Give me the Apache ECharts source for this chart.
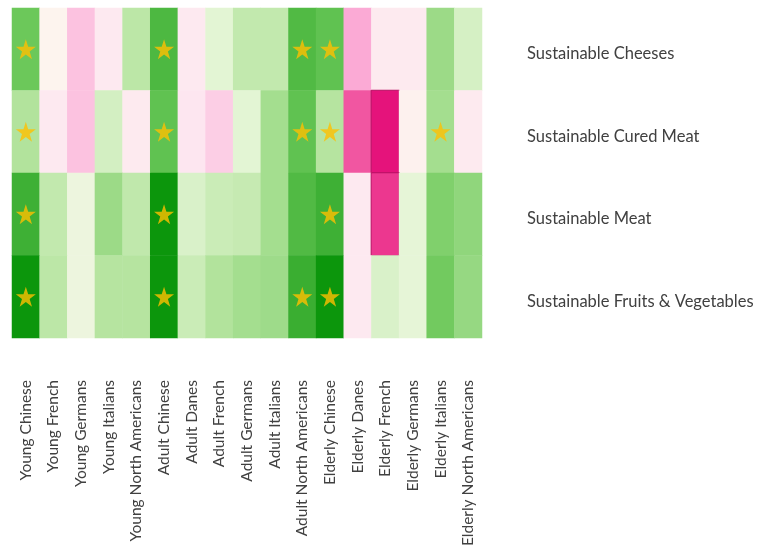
<!DOCTYPE html>
<html>
<head>
<meta charset="utf-8">
<script src="https://cdn.jsdelivr.net/npm/echarts@6/dist/echarts.min.js"></script>
<style>
  html, body { margin: 0; padding: 0; background: #ffffff; }
  #chart { width: 768px; height: 559px; }
</style>
</head>
<body>
<div id="chart"></div>
<script>
// Consumer groups along the x axis
const groups = [
  'Young Chinese', 'Young French', 'Young Germans', 'Young Italians', 'Young North Americans',
  'Adult Chinese', 'Adult Danes', 'Adult French', 'Adult Germans', 'Adult Italians', 'Adult North Americans',
  'Elderly Chinese', 'Elderly Danes', 'Elderly French', 'Elderly Germans', 'Elderly Italians', 'Elderly North Americans'
];

// Product categories, top to bottom
const products = [
  'Sustainable Cheeses',
  'Sustainable Cured Meat',
  'Sustainable Meat',
  'Sustainable Fruits & Vegetables'
];

// Scores per product (one value per group, -1 = strongly negative, +1 = strongly positive)
const cheeses    = [0.75, 0.00, -0.40, -0.20, 0.45, 0.83, -0.20, 0.25, 0.42, 0.42, 0.82, 0.78, -0.50, -0.18, -0.17, 0.58, 0.32];
const curedMeat  = [0.50, -0.20, -0.40, 0.33, -0.18, 0.78, -0.25, -0.35, 0.25, 0.55, 0.78, 0.48, -0.73, -1.00, -0.05, 0.55, -0.18];
const meat       = [0.87, 0.42, 0.15, 0.58, 0.43, 1.00, 0.30, 0.38, 0.40, 0.55, 0.82, 0.87, -0.20, -0.85, 0.22, 0.68, 0.62];
const fruitsVeg  = [1.00, 0.45, 0.15, 0.48, 0.48, 1.00, 0.38, 0.50, 0.55, 0.57, 0.88, 1.00, -0.20, 0.30, 0.22, 0.73, 0.60];

// Group indices flagged with a star for each product
const starsCheeses   = [0, 5, 10, 11];
const starsCuredMeat = [0, 5, 10, 11, 15];
const starsMeat      = [0, 5, 11];
const starsFruitsVeg = [0, 5, 10, 11];

const rows = [cheeses, curedMeat, meat, fruitsVeg];
const starRows = [starsCheeses, starsCuredMeat, starsMeat, starsFruitsVeg];

const cells = [];
rows.forEach((vals, r) => {
  vals.forEach((v, c) => {
    const item = { value: [c, r, v] };
    if (v <= -0.8) {
      item.itemStyle = { borderColor: '#b80f63', borderWidth: 1 };
    }
    cells.push(item);
  });
});

const stars = [];
starRows.forEach((list, r) => {
  list.forEach(c => stars.push([c, r]));
});

const starPath = 'path://M50,0 L61.2,34.5 L97.6,34.5 L68.2,55.9 L79.4,90.5 L50,69.1 L20.6,90.5 L31.8,55.9 L2.4,34.5 L38.8,34.5 Z';

const chart = echarts.init(document.getElementById('chart'), null, { renderer: 'canvas' });

chart.setOption({
  animation: false,
  backgroundColor: '#ffffff',
  grid: { left: 12, right: 286, top: 8, bottom: 221 },
  xAxis: {
    type: 'category',
    data: groups,
    axisLine: { show: false },
    axisTick: { show: false },
    splitLine: { show: false },
    axisLabel: {
      rotate: 90,
      interval: 0,
      margin: 42,
      color: '#404040',
      fontFamily: 'Lato',
      fontSize: 15.5
    }
  },
  yAxis: {
    type: 'category',
    data: products,
    inverse: true,
    position: 'right',
    axisLine: { show: false },
    axisTick: { show: false },
    splitLine: { show: false },
    axisLabel: {
      margin: 45,
      color: '#404040',
      fontFamily: 'Lato',
      fontSize: 16.5,
      formatter: v => '{p|' + v + '}',
      rich: {
        p: {
          color: '#404040',
          fontFamily: 'Lato',
          fontSize: 16.5,
          padding: [9, 0, 0, 0]
        }
      }
    }
  },
  visualMap: {
    show: false,
    type: 'continuous',
    min: -1,
    max: 1,
    dimension: 2,
    seriesIndex: 0,
    inRange: {
      color: ['#e5137b', '#f04f9c', '#fbaad5', '#fde6f0', '#fdf4ee', '#e3f5d4', '#b2e39c', '#6cc85a', '#0c960c']
    }
  },
  series: [
    {
      type: 'heatmap',
      data: cells,
      itemStyle: { borderWidth: 0 },
      emphasis: { disabled: true }
    },
    {
      type: 'scatter',
      data: stars,
      symbol: starPath,
      symbolSize: 20,
      itemStyle: { color: '#ffbf00' },
      z: 5
    }
  ]
});
</script>
</body>
</html>
